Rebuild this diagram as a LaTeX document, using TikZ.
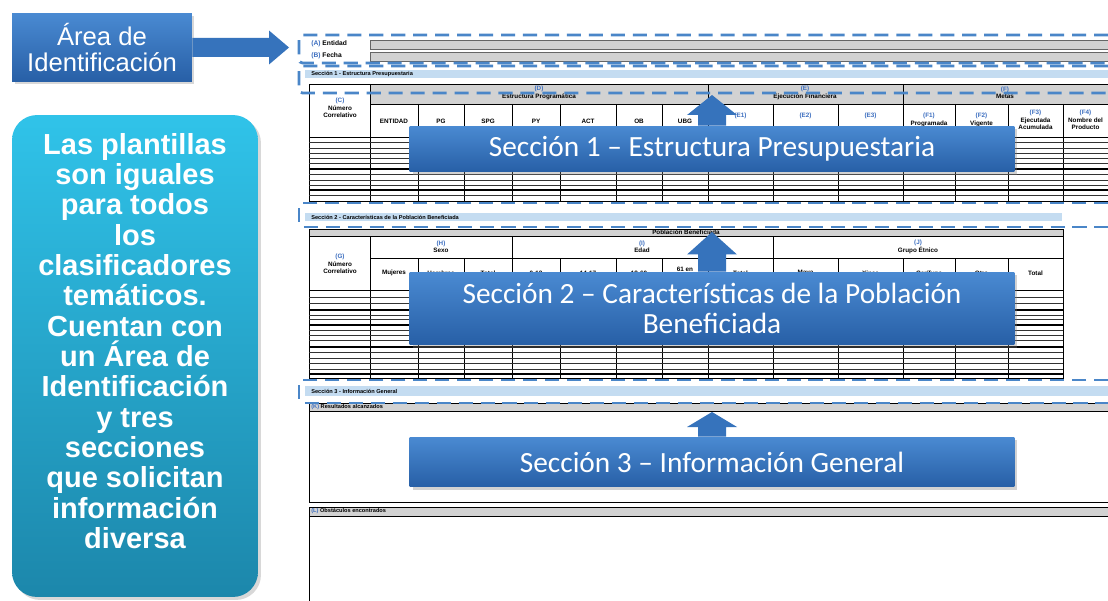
\documentclass[tikz,border=0pt]{standalone}
\usepackage{fontspec}
\setmainfont{Liberation Sans}
\newfontfamily\calloutfont{Carlito}
\usetikzlibrary{calc, positioning, shadows}

\definecolor{calltop}{HTML}{4A8AD2}
\definecolor{callbot}{HTML}{275FA6}
\definecolor{arrowblue}{HTML}{3673BC}
\definecolor{tealtop}{HTML}{30C3E9}
\definecolor{tealbot}{HTML}{1C87AB}
\definecolor{dashblue}{HTML}{4A86C8}
\definecolor{barblue}{HTML}{C4DCF1}
\definecolor{cellgray}{HTML}{D2D2D2}
\definecolor{codeblue}{HTML}{3D6FC0}

\tikzset{
    areabox/.style={top color=calltop, bottom color=callbot, text=white,
        minimum width=3.6cm, minimum height=1.38cm, align=center, inner sep=0pt,
        font=\fontsize{14.6}{14.4}\selectfont,
        drop shadow={opacity=0.3, shadow xshift=0.05cm, shadow yshift=-0.05cm}},
    tealbox/.style={top color=tealtop, bottom color=tealbot, rounded corners=0.5cm,
        minimum width=4.92cm, minimum height=9.64cm,
        drop shadow={opacity=0.3, shadow xshift=0.06cm, shadow yshift=-0.06cm}},
    notetext/.style={text=white, align=center, inner sep=0pt,
        font=\bfseries\fontsize{16.5}{17.25}\selectfont},
    callout/.style={top color=calltop, bottom color=callbot, text=white,
        minimum width=12.1cm, align=center, inner sep=0pt,
        font=\calloutfont\fontsize{16.7}{17.2}\selectfont,
        drop shadow={opacity=0.35, shadow xshift=0.06cm, shadow yshift=-0.06cm}},
    tinylab/.style={inner sep=0pt, align=center, font=\bfseries\fontsize{3.6}{4.2}\selectfont},
    barlab/.style={inner sep=0pt, anchor=west, font=\bfseries\fontsize{3.2}{3.8}\selectfont},
    grid/.style={draw=black, line width=0.5pt},
    thinrule/.style={draw=black!80, line width=0.3pt},
    field/.style={draw=black!60, fill=cellgray, line width=0.4pt},
    dashbox/.style={draw=dashblue, line width=1.6pt, dash pattern=on 8pt off 4.5pt, rounded corners=2pt},
    arrowfill/.style={fill=arrowblue}
}

% block arrow: from, to, shaft half width, head half width, head length
\newcommand{\fatarrow}[5]{
    \coordinate (fa-h) at ($(#2)!#5!(#1)$);
    \path[arrowfill] ($(#1)!#3!90:(#2)$) -- ($(fa-h)!#3!90:(#2)$) -- ($(fa-h)!#4!90:(#2)$)
        -- (#2) -- ($(fa-h)!#4!-90:(#2)$) -- ($(fa-h)!#3!-90:(#2)$) -- ($(#1)!#3!-90:(#2)$) -- cycle;
}
\newcommand{\blue}[1]{\textcolor{codeblue}{#1}}

\begin{document}
\begin{tikzpicture}[x=0.02cm, y=-0.02cm]
    \clip (0,0) rectangle (1108,601);
    \fill[white] (0,0) rectangle (1108,601);

    % Identification area
    \node[barlab, font=\bfseries\fontsize{3.8}{4.4}\selectfont] (ent) at (311,44) {\blue{(A)} Entidad};
    \node[barlab, font=\bfseries\fontsize{3.8}{4.4}\selectfont] (fec) at (311,56) {\blue{(B)} Fecha};
    \draw[field] (370,40) rectangle (1120,49);
    \draw[field] (370,52) rectangle (1120,61);

    % Section 1 table
    \fill[barblue] (305,70) rectangle (1120,78);
    \node[barlab] (bar1) at (311,74) {Sección 1 - Estructura Presupuestaria};
    \fill[cellgray] (370,84) rectangle (1110,104);
    \draw[grid] (309,84) rectangle (1110,201);
    \draw[grid] (370,104) -- (1110,104);
    \draw[grid] (309,137) -- (1110,137);
    \foreach \x in {370,708,903}
        \draw[grid] (\x,84) -- (\x,201);
    \foreach \x in {418,464,512,560,616,662,773,838,955,1008,1063}
        \draw[grid] (\x,104) -- (\x,201);
    \foreach \y in {142.5,148,153.5,158.5,163.5,174.5,180,185,195.5}
        \draw[thinrule] (309,\y) -- (1110,\y);
    \foreach \y in {169,190}
        \draw[grid, line width=0.8pt] (309,\y) -- (1110,\y);
    \node[tinylab] (cnum) at (340,108) {\blue{(C)}\\Número\\Correlativo};
    \node[tinylab] (dgrp) at (539,93) {\blue{(D)}\\Estructura Programática};
    \node[tinylab] (egrp) at (805,93) {\blue{(E)}\\Ejecución Financiera};
    \node[tinylab] (fgrp) at (1005,93) {\blue{(F)}\\Metas};
    \foreach \xa/\xb/\lab in {370/418/ENTIDAD, 418/464/PG, 464/512/SPG, 512/560/PY,
            560/616/ACT, 616/662/OB, 662/708/UBG}
        \node[tinylab] (a-\xa) at ({(\xa+\xb)/2},121) {\lab};
    \foreach \xa/\xb/\lab in {708/773/{\blue{(E1)}}, 773/838/{\blue{(E2)}}, 838/903/{\blue{(E3)}}}
        \node[tinylab] (e-\xa) at ({(\xa+\xb)/2},116) {\lab};
    \foreach \xa/\xb/\lab in {903/955/{\blue{(F1)}\\Programada}, 955/1008/{\blue{(F2)}\\Vigente},
            1008/1063/{\blue{(F3)}\\Ejecutada\\Acumulada}, 1063/1108/{\blue{(F4)}\\Nombre del\\Producto}}
        \node[tinylab] (f-\xa) at ({(\xa+\xb)/2},120) {\lab};

    % Section 2 table
    \fill[barblue] (305,213) rectangle (1062,221);
    \node[barlab] (bar2) at (311,217) {Sección 2 - Características de la Población Beneficiada};
    \fill[cellgray] (309,229) rectangle (1063,236);
    \draw[grid] (309,229) rectangle (1063,378);
    \draw[grid] (309,236) -- (1063,236);
    \draw[grid] (370,258) -- (1063,258);
    \draw[grid] (309,290) -- (1063,290);
    \foreach \x in {370,512,773}
        \draw[grid] (\x,236) -- (\x,378);
    \foreach \x in {418,464,560,616,662,708,838,903,955,1008}
        \draw[grid] (\x,258) -- (\x,378);
    \foreach \y in {297,303,315,319,330,335,340,352,358,363,369}
        \draw[thinrule] (309,\y) -- (1063,\y);
    \foreach \y in {310,325,347,374}
        \draw[grid, line width=0.8pt] (309,\y) -- (1063,\y);
    \node[tinylab] (pob) at (686,232.5) {Población Beneficiada};
    \node[tinylab] (gnum) at (340,264) {\blue{(G)}\\Número\\Correlativo};
    \node[tinylab] (hgrp) at (441,247) {\blue{(H)}\\Sexo};
    \node[tinylab] (igrp) at (642,247) {\blue{(I)}\\Edad};
    \node[tinylab] (jgrp) at (918,247) {\blue{(J)}\\Grupo Étnico};
    \foreach \xa/\xb/\lab in {370/418/Mujeres, 418/464/Hombres, 464/512/Total, 512/560/0-13,
            560/616/14-17, 616/662/18-60, 662/708/{61 en\\Adelante}, 708/773/Total,
            773/838/Maya, 838/903/Xinca, 903/955/Garífuna, 955/1008/Otro, 1008/1063/Total}
        \node[tinylab] (b-\xa) at ({(\xa+\xb)/2},273) {\lab};

    % Section 3 boxes
    \fill[barblue] (305,386) rectangle (1120,396);
    \node[barlab] (bar3) at (311,391) {Sección 3 - Información General};
    \fill[cellgray] (309,403) rectangle (1120,411);
    \draw[grid] (309,403) rectangle (1120,502);
    \draw[grid] (309,411) -- (1120,411);
    \node[barlab] (kres) at (311,407) {\blue{(K)} Resultados alcanzados};
    \fill[cellgray] (309,507) rectangle (1120,516);
    \draw[grid] (309,507) rectangle (1120,620);
    \draw[grid] (309,516) -- (1120,516);
    \node[barlab] (lobs) at (311,511.5) {\blue{(L)} Obstáculos encontrados};

    % dashed frames
    \draw[dashbox] (1130,35) -- (299,35) -- (299,63) -- (1130,63);
    \draw[dashbox] (1130,66) -- (299,66) -- (299,93) -- (1130,93);
    \draw[dashbox] (1130,203) -- (299,203) -- (299,227) -- (1130,227);
    \draw[dashbox] (1130,380) -- (299,380) -- (299,403) -- (1130,403);

    % left notes
    \node[areabox] (area) at (102,47.5) {Área de\\Identificación};
    \node[tealbox] (notebox) at (135,356) {};
    \node[notetext] (note) at (135,341) {Las plantillas\\son iguales\\para todos\\los\\clasificadores\\temáticos.\\Cuentan con\\un Área de\\Identificación\\y tres\\secciones\\que solicitan\\información\\diversa};

    % callouts
    \node[callout, minimum height=0.92cm] (s1) at (712,149) {Sección 1 – Estructura Presupuestaria};
    \node[callout, minimum height=1.46cm] (s2) at (712,308.5) {Sección 2 – Características de la Población\\Beneficiada};
    \node[callout, minimum height=1cm] (s3) at (712,462) {Sección 3 – Información General};

    % arrows
    \coordinate (idtip) at (289,47.5);
    \coordinate (tip1) at (s1.north |- 0,95);
    \coordinate (tip2) at (s2.north |- 0,232);
    \coordinate (tip3) at (s3.north |- 0,412);
    \fatarrow{area.east}{idtip}{0.19cm}{0.34cm}{0.4cm}
    \fatarrow{s1.north}{tip1}{0.28cm}{0.5cm}{0.4cm}
    \fatarrow{s2.north}{tip2}{0.28cm}{0.5cm}{0.45cm}
    \fatarrow{s3.north}{tip3}{0.28cm}{0.5cm}{0.3cm}
\end{tikzpicture}
\end{document}
